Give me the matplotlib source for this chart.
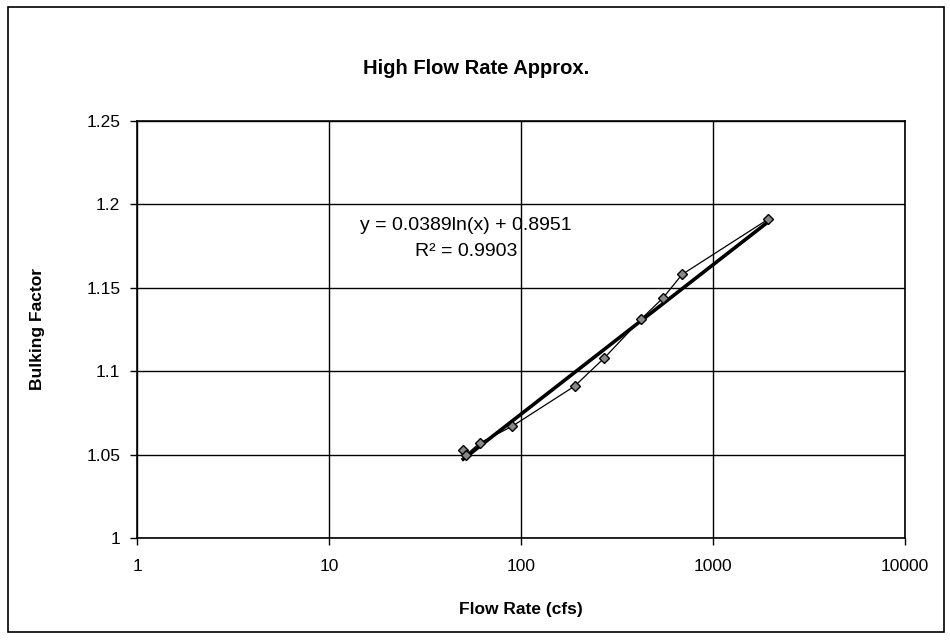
import matplotlib
matplotlib.use('Agg')
import matplotlib.pyplot as plt
import numpy as np
from matplotlib.patches import Rectangle
from matplotlib.ticker import FixedLocator, FixedFormatter

plt.rcParams['font.family'] = ['Liberation Sans', 'DejaVu Sans']

# data
flow = [50, 52, 61, 90, 190, 272, 420, 550, 690, 1930]
bulking = [1.053, 1.050, 1.057, 1.067, 1.091, 1.108, 1.131, 1.144, 1.158, 1.191]

# log trend line from the chart
a_coef = 0.0389
b_coef = 0.8951

x_ticks = [1, 10, 100, 1000, 10000]
x_labels = ['1', '10', '100', '1000', '10000']
y_ticks = [1, 1.05, 1.1, 1.15, 1.2, 1.25]
y_labels = ['1', '1.05', '1.1', '1.15', '1.2', '1.25']

W, H = 950, 644
fig = plt.figure(figsize=(W / 100, H / 100), dpi=100)
ax = fig.add_axes([137 / W, 1 - 538 / H, (905 - 137) / W, (538 - 121) / H])

# outer chart frame
fig.patches.append(Rectangle((8 / W, 1 - 632 / H), (944 - 8) / W, (632 - 7) / H,
                             transform=fig.transFigure, fill=False,
                             edgecolor='black', linewidth=1.2))

# trend line over the data range
xt = np.logspace(np.log10(min(flow)), np.log10(max(flow)), 50)
ax.plot(xt, a_coef * np.log(xt) + b_coef, color='black', linewidth=2.6, zorder=3)

# data series
ax.plot(flow, bulking, color='black', linewidth=0.9, marker='D', markersize=5,
        markerfacecolor='#888888', markeredgecolor='black', markeredgewidth=1.0, zorder=4)

ax.set_xscale('log')
ax.set_xlim(1, 10000)
ax.set_ylim(1, 1.25)
ax.xaxis.set_major_locator(FixedLocator(x_ticks))
ax.xaxis.set_major_formatter(FixedFormatter(x_labels))
ax.xaxis.set_minor_locator(FixedLocator([]))
ax.yaxis.set_major_locator(FixedLocator(y_ticks))
ax.yaxis.set_major_formatter(FixedFormatter(y_labels))
ax.grid(True, which='major', color='black', linewidth=1.0)
ax.tick_params(axis='both', direction='out', length=5, width=1, labelsize=12.5, pad=7)
ax.tick_params(axis='x', pad=10)
for s in ax.spines.values():
    s.set_linewidth(1.2)

ax.set_xlabel('Flow Rate (cfs)', fontsize=12.5, fontweight='bold', labelpad=20)
ax.set_ylabel('Bulking Factor', fontsize=12.5, fontweight='bold', labelpad=30)
fig.text(476 / W, 1 - 68 / H, 'High Flow Rate Approx.', ha='center', va='center',
         fontsize=14.5, fontweight='bold')

ax.text(51.7, 1.1876, 'y = 0.0389ln(x) + 0.8951', ha='center', va='center', fontsize=14)
ax.text(51.7, 1.1715, 'R² = 0.9903', ha='center', va='center', fontsize=14)

fig.savefig('out.png', dpi=100)
